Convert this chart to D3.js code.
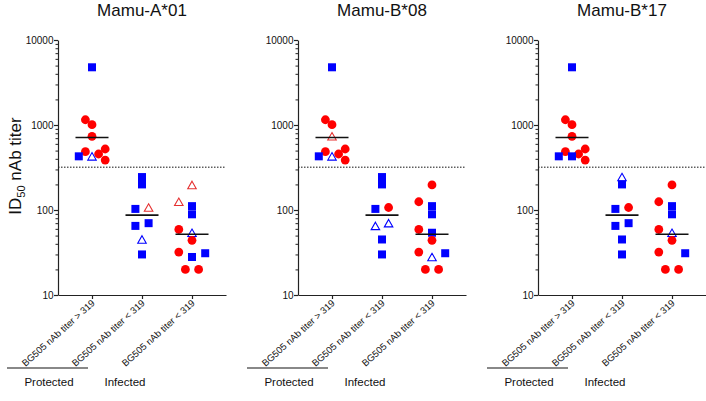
<!DOCTYPE html>
<html>
<head>
<meta charset="utf-8">
<script src="https://cdn.jsdelivr.net/npm/d3@7"></script>
<style>
  html, body { margin: 0; padding: 0; background: #fff; }
  svg { display: block; font-family: "Liberation Sans", Arial, sans-serif; }
</style>
</head>
<body>
<svg id="chart" width="706" height="401"></svg>
<script>
// ---------------- DATA ----------------
const panelTitles = ["Mamu-A*01", "Mamu-B*08", "Mamu-B*17"];
const groupLabels = ["BG505 nAb titer > 319", "BG505 nAb titer < 319", "BG505 nAb titer < 319"];
const yTickValues = [10, 100, 1000, 10000];
const threshold = 319;
const outcomeLabels = ["Protected", "Infected"];

// ID50 titers per animal (same animals in every panel)
const protectedTiters = [4775, 1153, 1009, 736, 522, 485, 456, 428, 428, 387];
const infectedATiters = [244, 200, 103, 107, 65, 70, 45, 30];
const infectedBTiters = [197, 125, 111, 89, 59, 54, 44, 32, 31, 28, 20, 20];

// scatter column (jitter slot) of each animal within its group
const protectedSlots = [0, -1, 0, 0, 2, -1, 1, -2, 0, 2];
const infectedASlots = [0, 0, -1, 1, -1, 1, 0, 0];
const infectedBSlots = [0, -2, 0, 0, -2, 0, 0, -2, 2, 0, -1, 1];

// marker codes per panel: S = blue square, C = red circle,
// TB = open blue triangle, TR = open red triangle, N = not shown
const protectedMarks = [
  ["S", "C", "C", "C", "C", "C", "C", "S", "TB", "C"],
  ["S", "C", "C", "TR", "C", "C", "C", "S", "TB", "C"],
  ["S", "C", "C", "C", "C", "C", "C", "S", "S", "C"]
];
const infectedAMarks = [
  ["S", "S", "S", "TR", "S", "S", "TB", "S"],
  ["S", "S", "S", "C", "TB", "TB", "S", "S"],
  ["TB", "S", "S", "C", "S", "S", "S", "S"]
];
const infectedBMarks = [
  ["TR", "TR", "S", "S", "C", "TB", "C", "C", "S", "S", "C", "C"],
  ["C", "C", "S", "S", "C", "S", "C", "C", "S", "TB", "C", "C"],
  ["C", "C", "S", "S", "C", "TB", "C", "C", "S", "N", "C", "C"]
];

// ---------------- DRAWING ----------------
const svg = d3.select("#chart");
const BLUE = "#0000ff", RED = "#ff0000";
const AXIS = "#222";
const panelX0 = [58, 298, 538];
const axisLen = 168;
const slotW = 6.6;

const y = d3.scaleLog().domain([10, 10000]).range([295, 40]);

const groups = [
  { titers: protectedTiters, slots: protectedSlots, marks: protectedMarks },
  { titers: infectedATiters, slots: infectedASlots, marks: infectedAMarks },
  { titers: infectedBTiters, slots: infectedBSlots, marks: infectedBMarks }
];

const minorTicks = [];
for (let d = 10; d < 10000; d *= 10) {
  for (let k = 2; k <= 9; k++) minorTicks.push(d * k);
}

function drawMarker(g, code, cx, cy) {
  if (code === "S") {
    g.append("rect").attr("x", cx - 4).attr("y", cy - 4).attr("width", 8).attr("height", 8)
      .attr("fill", BLUE);
  } else if (code === "C") {
    g.append("circle").attr("cx", cx).attr("cy", cy).attr("r", 4.4).attr("fill", RED);
  } else if (code === "TB" || code === "TR") {
    const h = 7.5, w = 8.5;
    g.append("path")
      .attr("d", `M${cx},${cy - h / 2}L${cx + w / 2},${cy + h / 2}L${cx - w / 2},${cy + h / 2}Z`)
      .attr("fill", "none")
      .attr("stroke", code === "TB" ? BLUE : "#e53030")
      .attr("stroke-width", 1.1);
  }
}

panelTitles.forEach((title, p) => {
  const x0 = panelX0[p];
  const g = svg.append("g");

  const x = d3.scalePoint().domain(d3.range(groupLabels.length))
    .range([x0, x0 + axisLen]).padding(0.68);

  // title
  g.append("text").attr("x", x(1)).attr("y", 15.5).attr("text-anchor", "middle")
    .attr("font-size", 17).attr("fill", "#111").text(title);

  // threshold dotted line
  g.append("line").attr("x1", x0).attr("x2", p === 2 ? 706 : x0 + axisLen)
    .attr("y1", y(threshold)).attr("y2", y(threshold))
    .attr("stroke", "#111").attr("stroke-width", 1).attr("stroke-dasharray", "1.5,1.5");

  // y axis
  const yAxis = d3.axisLeft(y).tickValues(yTickValues).tickFormat(d3.format("d"))
    .tickSize(4).tickSizeOuter(0);
  const ya = g.append("g").attr("transform", `translate(${x0},0)`).call(yAxis);
  ya.select(".domain").attr("stroke", AXIS).attr("stroke-width", 1.2);
  ya.selectAll(".tick line").attr("stroke", AXIS).attr("stroke-width", 1.2);
  ya.selectAll(".tick text").attr("font-size", 10).attr("fill", "#111")
    .attr("font-family", "Liberation Sans, Arial, sans-serif").attr("x", -4.5);
  const yMinor = d3.axisLeft(y).tickValues(minorTicks).tickFormat("").tickSize(2.5).tickSizeOuter(0);
  const ym = g.append("g").attr("transform", `translate(${x0},0)`).call(yMinor);
  ym.select(".domain").remove();
  ym.selectAll(".tick line").attr("stroke", AXIS).attr("stroke-width", 1);

  // x axis
  const xAxis = d3.axisBottom(x).tickFormat(i => groupLabels[i]).tickSize(4).tickSizeOuter(0);
  const xa = g.append("g").attr("transform", `translate(0,${y(10)})`).call(xAxis);
  xa.select(".domain").attr("stroke", AXIS).attr("stroke-width", 1.2);
  xa.selectAll(".tick line").attr("stroke", AXIS).attr("stroke-width", 1.2);
  xa.selectAll(".tick text")
    .attr("font-size", 9.5).attr("fill", "#111")
    .attr("font-family", "Liberation Sans, Arial, sans-serif")
    .attr("text-anchor", "end")
    .attr("x", 0).attr("y", 0).attr("dy", null)
    .attr("transform", "translate(3,9) rotate(-42)");

  // points and geometric-mean lines
  groups.forEach((grp, gi) => {
    const cxBase = x(gi);
    grp.titers.forEach((v, i) => {
      drawMarker(g, grp.marks[p][i], cxBase + grp.slots[i] * slotW, y(v));
    });
    const gm = Math.pow(10, d3.mean(grp.titers, v => Math.log10(v)));
    g.append("line").attr("x1", cxBase - 16.5).attr("x2", cxBase + 16.5)
      .attr("y1", y(gm)).attr("y2", y(gm))
      .attr("stroke", "#111").attr("stroke-width", 1.6);
  });

  // outcome annotation
  g.append("line").attr("x1", x0 - 51).attr("x2", x0 + 30).attr("y1", 368).attr("y2", 368)
    .attr("stroke", "#888").attr("stroke-width", 2);
  g.append("text").attr("x", x0 - 9).attr("y", 386).attr("text-anchor", "middle")
    .attr("font-size", 11.5).attr("fill", "#111").text(outcomeLabels[0]);
  g.append("text").attr("x", x0 + 67).attr("y", 386).attr("text-anchor", "middle")
    .attr("font-size", 11.5).attr("fill", "#111").text(outcomeLabels[1]);
});

// y axis title
const yt = svg.append("text")
  .attr("transform", "translate(21,166) rotate(-90)")
  .attr("text-anchor", "middle").attr("font-size", 17).attr("fill", "#111");
yt.append("tspan").text("ID");
yt.append("tspan").attr("font-size", 11).attr("dy", 4).text("50");
yt.append("tspan").attr("dy", -4).text(" nAb titer");
</script>
</body>
</html>
